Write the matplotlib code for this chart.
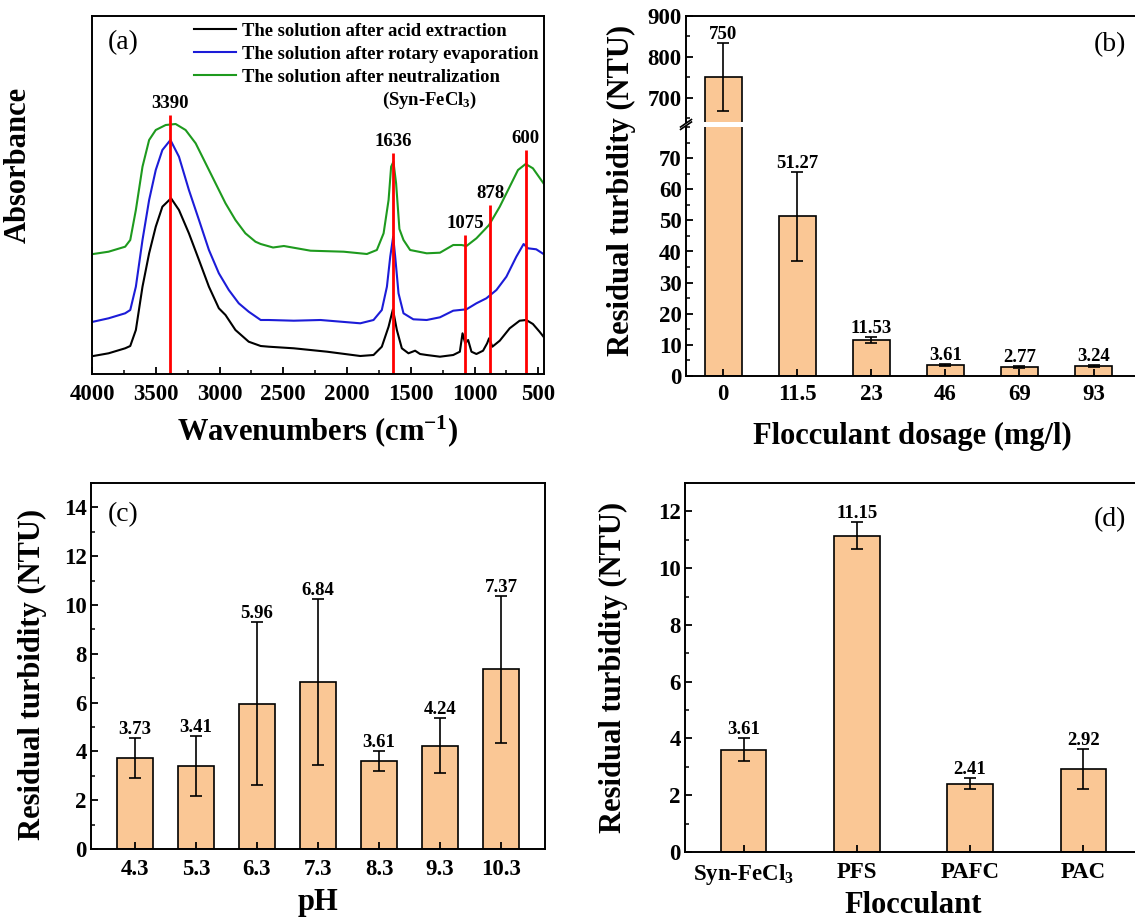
import matplotlib.pyplot as plt
from matplotlib.ticker import AutoMinorLocator, MultipleLocator

plt.rcParams['font.family'] = 'Liberation Serif'
plt.rcParams['font.weight'] = 'bold'
plt.rcParams['axes.labelweight'] = 'bold'
plt.rcParams['mathtext.fontset'] = 'custom'
plt.rcParams['mathtext.rm'] = 'Liberation Serif:bold'
plt.rcParams['mathtext.bf'] = 'Liberation Serif:bold'
plt.rcParams['mathtext.default'] = 'bf'
plt.rcParams['axes.linewidth'] = 1.4
plt.rcParams['xtick.direction'] = 'in'
plt.rcParams['ytick.direction'] = 'in'
plt.rcParams['xtick.major.width'] = 1.3
plt.rcParams['ytick.major.width'] = 1.3
plt.rcParams['xtick.minor.width'] = 1.1
plt.rcParams['ytick.minor.width'] = 1.1
plt.rcParams['xtick.major.size'] = 5
plt.rcParams['ytick.major.size'] = 5
plt.rcParams['xtick.minor.size'] = 3
plt.rcParams['ytick.minor.size'] = 3

# ---- (a) FTIR spectra (arbitrary absorbance units) ----
wn_acid = [3990, 3870, 3740, 3700, 3656, 3604, 3552, 3500, 3448, 3380, 3318, 3240, 3161, 3083,
           3005, 2953, 2875, 2771, 2677, 2614, 2417, 2156, 1896, 1792, 1727, 1674, 1640, 1609,
           1570, 1518, 1466, 1427, 1375, 1271, 1167, 1115, 1094, 1073, 1050, 1024, 985, 933,
           901, 886, 860, 802, 724, 646, 594, 542, 490, 459]
abs_acid = [18, 20.7, 25.7, 28, 44, 87.3, 120.7, 147.3, 167.3, 175.7, 164, 140.7, 114, 87.3,
            65.7, 59, 44, 32.3, 28, 27.3, 25.7, 22.3, 18, 19, 27.3, 47.3, 64.7, 44,
            25.7, 20.7, 23.3, 20, 19, 17.3, 19, 22.3, 40.7, 30.7, 34, 22.3, 20, 23.3,
            30.7, 35.7, 27.3, 33.3, 45.7, 53.3, 54, 50, 42.3, 37.3]

wn_rotary = [3990, 3870, 3740, 3700, 3656, 3604, 3552, 3500, 3448, 3385, 3318, 3240, 3161, 3083,
             3005, 2927, 2849, 2771, 2677, 2614, 2417, 2208, 1896, 1792, 1727, 1687, 1661, 1638,
             1622, 1596, 1557, 1480, 1375, 1271, 1167, 1063, 985, 907, 828, 750, 672, 615,
             581, 516, 459]
abs_rotary = [52.3, 55.7, 60.7, 64, 87.3, 134, 174, 204, 224, 234, 217.3, 184, 154, 124,
              100.7, 84, 70.7, 62.3, 54, 54, 53.3, 54, 50.7, 54, 64, 87.3, 117.3, 137.3,
              117.3, 80.7, 60.7, 54.7, 54, 56.7, 63.3, 64.7, 70.7, 75.7, 84, 97.3, 117.3, 130,
              125.7, 124.7, 120]

wn_neutral = [3990, 3870, 3740, 3700, 3656, 3604, 3552, 3500, 3422, 3344, 3266, 3187, 3109, 3031,
              2953, 2875, 2797, 2718, 2677, 2580, 2495, 2286, 2026, 1844, 1766, 1713, 1674, 1654,
              1636, 1615, 1589, 1557, 1505, 1375, 1271, 1167, 1102, 1063, 985, 886, 802, 724,
              659, 599, 542, 459]
abs_neutral = [120, 122.3, 127.3, 134, 164, 207.3, 234, 244, 249, 250, 244, 230.7, 210.7, 190.7,
               170.7, 154, 140.7, 132.3, 130, 126.5, 128, 123.3, 122.3, 120, 124, 140.7, 174, 207.3,
               212.3, 190.7, 145, 134, 124, 120.7, 121.3, 129, 129, 128, 135.7, 149, 167.3, 187.3,
               204, 210, 205.7, 190.7]

peak_pos = [3390, 1636, 1075, 878, 600]
peak_top = [259, 220.7, 139, 169, 224]

# ---- (b) flocculant dosage ----
dosage = ['0', '11.5', '23', '46', '69', '93']
turb_dosage = [750, 51.27, 11.53, 3.61, 2.77, 3.24]
err_dosage = [83, 14.4, 1.0, 0.4, 0.3, 0.3]

# ---- (c) pH ----
ph = ['4.3', '5.3', '6.3', '7.3', '8.3', '9.3', '10.3']
turb_ph = [3.73, 3.41, 5.96, 6.84, 3.61, 4.24, 7.37]
err_ph = [0.83, 1.23, 3.35, 3.39, 0.40, 1.13, 3.01]

# ---- (d) flocculant type ----
flocculants = ['Syn-FeCl$_3$', 'PFS', 'PAFC', 'PAC']
turb_floc = [3.61, 11.15, 2.41, 2.92]
err_floc = [0.41, 0.49, 0.18, 0.70]

bar_color = '#FAC795'
W, H = 1135, 919
TICK = 16.5
LABEL = 22
VAL = 13.5


def px_axes(left, top, right, bottom):
    return [left / W, (H - bottom) / H, (right - left) / W, (bottom - top) / H]


fig = plt.figure(figsize=(W / 100, H / 100), dpi=100)

# ------------------------------ (a) ------------------------------
ax_a = fig.add_axes(px_axes(92, 16, 544, 374))
ax_a.plot(wn_acid, abs_acid, color='black', lw=1.5, label='The solution after acid extraction')
ax_a.plot(wn_rotary, abs_rotary, color='#1c1cd8', lw=1.5, label='The solution after rotary evaporation')
ax_a.plot(wn_neutral, abs_neutral, color='#1e9a1e', lw=1.5, label='The solution after neutralization')
ax_a.vlines(peak_pos, 0, peak_top, colors='red', lw=2)
for p, t in zip(peak_pos, peak_top):
    ax_a.text(p, t + 3, str(p), ha='center', va='bottom', fontsize=VAL)
ax_a.set_xlim(4000, 455)
ax_a.set_ylim(0, 358)
ax_a.xaxis.set_major_locator(MultipleLocator(500))
ax_a.xaxis.set_minor_locator(MultipleLocator(250))
ax_a.set_yticks([])
ax_a.tick_params(axis='x', labelsize=TICK, pad=7)
ax_a.set_xlabel('Wavenumbers (cm$^{-1}$)', fontsize=LABEL, labelpad=6)
ax_a.set_ylabel('Absorbance', fontsize=LABEL)
ax_a.yaxis.set_label_coords(-0.13, 0.584)
ax_a.legend(loc='upper left', bbox_to_anchor=(0.2, 1.012), frameon=False,
            fontsize=13.4, handlelength=2.3, handletextpad=0.3, labelspacing=0.32,
            borderaxespad=0.2)
ax_a.text(0.748, 0.765, '(Syn-FeCl$_3$)', transform=ax_a.transAxes, ha='center', va='center',
          fontsize=13.4)
ax_a.text(0.035, 0.925, '(a)', transform=ax_a.transAxes, ha='left', va='center',
          fontsize=20, fontweight='normal')


def bars(ax, labels, vals, errs, width):
    pos = list(range(len(labels)))
    ax.bar(pos, vals, width=width, color=bar_color, edgecolor='black', linewidth=1.2)
    ax.errorbar(pos, vals, yerr=errs, fmt='none', ecolor='black', elinewidth=1.2,
                capsize=4, capthick=1.2)
    return pos


# ------------------------------ (b) ------------------------------
ax_bu = fig.add_axes(px_axes(686, 16, 1138, 122))
ax_bl = fig.add_axes(px_axes(686, 127, 1138, 376))
for ax in (ax_bu, ax_bl):
    pos_b = bars(ax, dosage, turb_dosage, err_dosage, 0.5)
    ax.set_xlim(-0.5, 5.6)
    ax.tick_params(axis='y', labelsize=TICK, pad=3)
    ax.yaxis.set_minor_locator(AutoMinorLocator(2))
ax_bu.set_ylim(640, 900)
ax_bu.set_yticks([700, 800, 900])
ax_bu.spines['bottom'].set_visible(False)
ax_bu.tick_params(axis='x', bottom=False, labelbottom=False)
ax_bl.set_ylim(0, 80)
ax_bl.set_yticks(range(0, 80, 10))
ax_bl.spines['top'].set_visible(False)
ax_bl.set_xticks(pos_b)
ax_bl.set_xticklabels(dosage)
ax_bl.tick_params(axis='x', labelsize=TICK, pad=6)
ax_bl.set_xlabel('Flocculant dosage (mg/l)', fontsize=LABEL, labelpad=12)
fig.text(621 / W, (H - 190) / H, 'Residual turbidity (NTU)', rotation=90, ha='center',
         va='center', fontsize=LABEL)
for p, v, e in zip(pos_b, turb_dosage, err_dosage):
    ax = ax_bu if v > 80 else ax_bl
    ax.text(p, v + e, f'{v:g}', ha='center', va='bottom', fontsize=VAL)
# break marks
d = 0.012
kw = dict(color='black', lw=1.2, clip_on=False)
ax_bu.plot([-d, d], [-0.07, 0.0], transform=ax_bu.transAxes, **kw)
ax_bl.plot([-d, d], [1.0, 1.03], transform=ax_bl.transAxes, **kw)
ax_bu.text(0.938, 0.73, '(b)', transform=ax_bu.transAxes, ha='center', va='center',
           fontsize=20, fontweight='normal')

# ------------------------------ (c) ------------------------------
ax_c = fig.add_axes(px_axes(91, 483, 545, 849))
pos_c = bars(ax_c, ph, turb_ph, err_ph, 0.6)
ax_c.set_xlim(-0.72, 6.72)
ax_c.set_ylim(0, 15)
ax_c.set_xticks(pos_c)
ax_c.set_xticklabels(ph)
ax_c.yaxis.set_major_locator(MultipleLocator(2))
ax_c.yaxis.set_minor_locator(MultipleLocator(1))
ax_c.tick_params(axis='x', labelsize=TICK, pad=7)
ax_c.tick_params(axis='y', labelsize=TICK, pad=3)
ax_c.set_xlabel('pH', fontsize=LABEL, labelpad=6)
ax_c.set_ylabel('Residual turbidity (NTU)', fontsize=LABEL)
ax_c.yaxis.set_label_coords(-0.097, 0.478)
for p, v, e in zip(pos_c, turb_ph, err_ph):
    ax_c.text(p, v + e, f'{v:.2f}', ha='center', va='bottom', fontsize=VAL)
ax_c.text(0.07, 0.913, '(c)', transform=ax_c.transAxes, ha='center', va='center',
          fontsize=20, fontweight='normal')

# ------------------------------ (d) ------------------------------
ax_d = fig.add_axes(px_axes(685, 483, 1142, 852))
pos_d = bars(ax_d, flocculants, turb_floc, err_floc, 0.4)
ax_d.set_xlim(-0.52, 3.52)
ax_d.set_ylim(0, 13)
ax_d.set_xticks(pos_d)
ax_d.set_xticklabels(flocculants)
ax_d.yaxis.set_major_locator(MultipleLocator(2))
ax_d.yaxis.set_minor_locator(MultipleLocator(1))
ax_d.tick_params(axis='x', labelsize=TICK, pad=7)
ax_d.tick_params(axis='y', labelsize=TICK, pad=3)
ax_d.set_xlabel('Flocculant', fontsize=LABEL, labelpad=3)
ax_d.set_ylabel('Residual turbidity (NTU)', fontsize=LABEL)
ax_d.yaxis.set_label_coords(-0.125, 0.5)
for p, v, e in zip(pos_d, turb_floc, err_floc):
    ax_d.text(p, v + e, f'{v:.2f}', ha='center', va='bottom', fontsize=VAL)
ax_d.text(0.93, 0.9, '(d)', transform=ax_d.transAxes, ha='center', va='center',
          fontsize=20, fontweight='normal')

fig.savefig('out.png', dpi=100)
